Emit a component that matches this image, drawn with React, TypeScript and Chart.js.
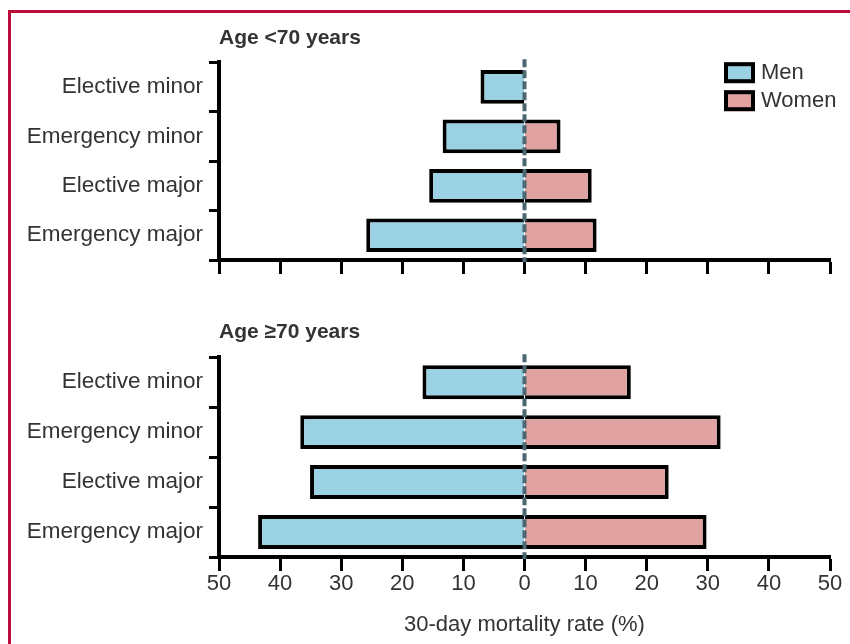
import React, { useEffect, useRef } from "react";
import { Chart, registerables } from "chart.js";

Chart.register(...registerables);

// ---- Data ----
const categories = ["Elective minor", "Emergency minor", "Elective major", "Emergency major"];
const seriesLabels = ["Men", "Women"];
const menUnder70 = [7.2, 13.4, 15.6, 25.9];
const womenUnder70 = [0, 5.9, 11.0, 11.8];
const menOver70 = [16.7, 36.7, 35.1, 43.6];
const womenOver70 = [17.4, 32.1, 23.6, 29.8];
const panelTitles = ["Age <70 years", "Age \u226570 years"];
const axisTitle = "30-day mortality rate (%)";
const axisMin = -50;
const axisMax = 50;
const axisStep = 10;

const MEN_COLOR = "#9AD2E3";
const WOMEN_COLOR = "#E1A3A1";
const FONT = "'Liberation Sans', Arial, sans-serif";
const TEXT = "#333333";

const zeroLinePlugin = {
  id: "zeroLine",
  afterDatasetsDraw(chart: any) {
    const { ctx, chartArea } = chart;
    const x = chart.scales.x.getPixelForValue(0);
    ctx.save();
    ctx.strokeStyle = "#4A6671";
    ctx.lineWidth = 4;
    ctx.setLineDash([8, 3]);
    ctx.beginPath();
    ctx.moveTo(x, chartArea.top - 3);
    ctx.lineTo(x, chartArea.bottom + 2);
    ctx.stroke();
    ctx.restore();
  },
};

const panelLegendPlugin = {
  id: "panelLegend",
  afterDraw(chart: any, _args: any, opts: any) {
    if (!opts || !opts.show) return;
    const { ctx, chartArea } = chart;
    ctx.save();
    chart.data.datasets.forEach((ds: any, i: number) => {
      const x = chartArea.right - 106;
      const y = chartArea.top + i * 28;
      ctx.fillStyle = ds.backgroundColor;
      ctx.fillRect(x, y, 31, 21);
      ctx.strokeStyle = "#000";
      ctx.lineWidth = 4;
      ctx.strokeRect(x + 2, y + 2, 31 - 4, 21 - 4);
      ctx.fillStyle = TEXT;
      ctx.font = `22px ${FONT}`;
      ctx.textBaseline = "middle";
      ctx.textAlign = "left";
      ctx.fillText(ds.label, x + 37, y + 11);
    });
    ctx.restore();
  },
};

type PanelProps = {
  title: string;
  men: number[];
  women: number[];
  showLegend: boolean;
  showXLabels: boolean;
  top: number;
  height: number;
  titlePadTop: number;
  titlePadBottom: number;
  xHeight: number;
};

function Panel(p: PanelProps) {
  const ref = useRef<HTMLCanvasElement | null>(null);
  useEffect(() => {
    if (!ref.current) return;
    const chart = new Chart(ref.current, {
      type: "bar",
      data: {
        labels: categories,
        datasets: [
          {
            label: seriesLabels[0],
            data: p.men.map((v) => -v),
            backgroundColor: MEN_COLOR,
            borderColor: "#000",
            borderWidth: 4,
            borderSkipped: "start",
          },
          {
            label: seriesLabels[1],
            data: p.women,
            backgroundColor: WOMEN_COLOR,
            borderColor: "#000",
            borderWidth: 4,
            borderSkipped: "start",
          },
        ],
      },
      options: {
        indexAxis: "y",
        responsive: false,
        animation: false,
        categoryPercentage: 0.68,
        barPercentage: 1,
        layout: { padding: { left: 0, right: 20, top: 0, bottom: 0 } },
        plugins: {
          legend: { display: false },
          tooltip: { enabled: false },
          title: {
            display: true,
            text: p.title,
            align: "start",
            fullSize: false,
            color: TEXT,
            font: { family: FONT, size: 21, weight: "bold", lineHeight: 1.2 },
            padding: { top: p.titlePadTop, bottom: p.titlePadBottom },
          },
          panelLegend: { show: p.showLegend },
        } as any,
        scales: {
          x: {
            type: "linear",
            stacked: true,
            min: axisMin,
            max: axisMax,
            afterFit: (scale: any) => {
              scale.height = p.xHeight;
            },
            ticks: {
              display: p.showXLabels,
              stepSize: axisStep,
              padding: 0,
              color: TEXT,
              font: { family: FONT, size: 22 },
              callback: (v: any) => String(Math.abs(Number(v))),
            },
            grid: {
              display: true,
              drawOnChartArea: false,
              drawTicks: true,
              tickLength: 14,
              tickWidth: 3,
              tickColor: "#000",
            },
            border: { display: true, color: "#000", width: 4 },
            title: {
              display: p.showXLabels,
              text: axisTitle,
              color: TEXT,
              font: { family: FONT, size: 22, lineHeight: 1.2 },
              padding: { top: 0, bottom: 6 },
            },
          },
          y: {
            type: "category",
            stacked: true,
            afterFit: (scale: any) => {
              scale.width = 219;
            },
            ticks: {
              padding: 6,
              color: TEXT,
              font: { family: FONT, size: 22.5 },
            },
            grid: {
              display: true,
              offset: true,
              drawOnChartArea: false,
              drawTicks: true,
              tickLength: 10,
              tickWidth: 3,
              tickColor: "#000",
            },
            border: { display: true, color: "#000", width: 4 },
          },
        },
      } as any,
      plugins: [zeroLinePlugin, panelLegendPlugin],
    });
    return () => chart.destroy();
  }, []);
  return (
    <canvas
      ref={ref}
      width={850}
      height={p.height}
      style={{ position: "absolute", left: 0, top: p.top, width: 850, height: p.height }}
    />
  );
}

export default function App() {
  return (
    <div
      style={{
        position: "fixed",
        left: 0,
        top: 0,
        width: 850,
        height: 644,
        overflow: "hidden",
        background: "#fff",
      }}
    >
      <div
        style={{
          position: "absolute",
          left: 8,
          top: 10,
          width: 900,
          height: 700,
          border: "3px solid #B90C3B",
        }}
      />
      <Panel
        title={panelTitles[0]}
        men={menUnder70}
        women={womenUnder70}
        showLegend={true}
        showXLabels={false}
        top={0}
        height={290}
        titlePadTop={26}
        titlePadBottom={11}
        xHeight={30}
      />
      <Panel
        title={panelTitles[1]}
        men={menOver70}
        women={womenOver70}
        showLegend={false}
        showXLabels={true}
        top={300}
        height={344}
        titlePadTop={20}
        titlePadBottom={12}
        xHeight={87}
      />
    </div>
  );
}
